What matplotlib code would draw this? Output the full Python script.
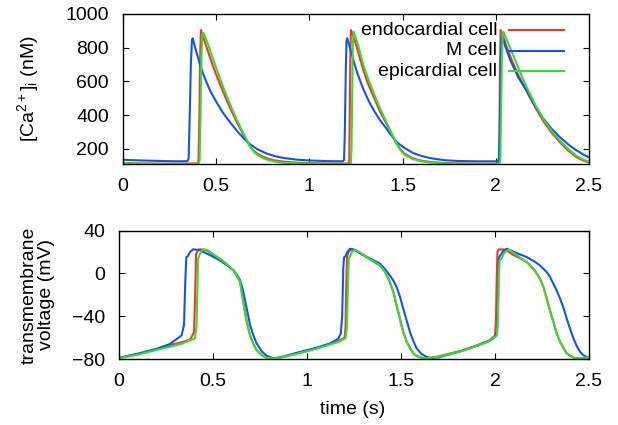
import matplotlib
matplotlib.use("Agg")
import matplotlib.pyplot as plt
from matplotlib.lines import Line2D

# ---- calcium transients [Ca2+]i (nM) ----
ca_t_endo = [0, 0.1, 0.2, 0.3, 0.4, 0.405, 0.41, 0.414, 0.418, 0.425, 0.44, 0.46, 0.48, 0.5,
             0.52, 0.55, 0.58, 0.61, 0.64, 0.66, 0.681, 0.7, 0.72, 0.75, 0.78, 0.81, 0.86,
             0.93, 1.0, 1.1, 1.21,
             1.214, 1.217, 1.22, 1.223, 1.23, 1.25, 1.27, 1.289, 1.31, 1.33, 1.36, 1.379,
             1.41, 1.44, 1.468, 1.49, 1.51, 1.557, 1.6, 1.647, 1.72, 1.79, 1.9, 2.0, 2.016,
             2.019, 2.022, 2.026, 2.035, 2.06, 2.09, 2.12, 2.166, 2.21, 2.255, 2.3, 2.345,
             2.39, 2.434, 2.47, 2.5]
ca_endo = [116, 113, 112, 112, 113, 130, 400, 750, 905, 880, 830, 765, 700, 640,
           585, 505, 430, 360, 295, 255, 215, 190, 172, 153, 141, 132, 124,
           118, 115, 113, 112,
           130, 450, 780, 905, 885, 820, 740, 670, 600, 545, 470, 420,
           355, 290, 230, 195, 172, 143, 130, 122, 116, 113, 112, 112, 115,
           200, 650, 905, 880, 800, 715, 640, 540, 450, 365, 295, 238,
           188, 150, 130, 120]

ca_t_m = [0, 0.1, 0.2, 0.3, 0.345, 0.352, 0.358, 0.364, 0.37, 0.374, 0.38, 0.39, 0.4, 0.413,
          0.43, 0.45, 0.47, 0.5, 0.53, 0.56, 0.592, 0.62, 0.65, 0.681, 0.72, 0.771, 0.81,
          0.86, 0.93, 1.0, 1.1, 1.18,
          1.186, 1.19, 1.195, 1.199, 1.203, 1.21, 1.225, 1.24, 1.26, 1.289, 1.32, 1.35,
          1.379, 1.41, 1.44, 1.468, 1.51, 1.557, 1.6, 1.647, 1.72, 1.79, 1.9, 2.0, 2.016,
          2.021, 2.026, 2.03, 2.035, 2.05, 2.08, 2.12, 2.166, 2.21, 2.255, 2.3, 2.345,
          2.39, 2.434, 2.47, 2.5]
ca_m = [135, 131, 128, 126, 127, 140, 400, 700, 845, 856, 830, 790, 750, 700,
        645, 590, 540, 480, 425, 378, 333, 295, 260, 228, 198, 172, 158,
        146, 136, 131, 127, 126,
        135, 300, 650, 840, 856, 830, 770, 710, 640, 555, 480, 420,
        370, 325, 280, 240, 205, 175, 158, 145, 133, 128, 126, 126, 128,
        300, 650, 840, 870, 810, 720, 625, 545, 455, 380, 318, 268,
        225, 190, 166, 150]

ca_t_epi = [0, 0.1, 0.2, 0.3, 0.405, 0.411, 0.416, 0.421, 0.426, 0.431, 0.45, 0.47, 0.5,
            0.52, 0.55, 0.58, 0.61, 0.64, 0.66, 0.681, 0.7, 0.72, 0.75, 0.78, 0.81, 0.86,
            0.93, 1.0, 1.1, 1.215,
            1.222, 1.226, 1.23, 1.233, 1.237, 1.245, 1.26, 1.289, 1.31, 1.33, 1.36, 1.379,
            1.41, 1.44, 1.468, 1.49, 1.51, 1.557, 1.6, 1.647, 1.72, 1.79, 1.9, 2.0, 2.018,
            2.024, 2.028, 2.033, 2.037, 2.041, 2.05, 2.08, 2.11, 2.14, 2.166, 2.21, 2.255,
            2.3, 2.345, 2.39, 2.434, 2.47, 2.5]
ca_epi = [115, 112, 111, 111, 112, 130, 400, 750, 880, 889, 840, 775, 680,
          620, 530, 450, 375, 305, 262, 215, 185, 165, 145, 133, 125, 118,
          114, 113, 112, 111,
          112, 200, 550, 820, 895, 870, 820, 700, 630, 575, 490, 440,
          365, 295, 230, 190, 165, 138, 126, 119, 114, 112, 111, 111, 112,
          130, 400, 750, 880, 895, 870, 790, 710, 630, 565, 465, 378,
          305, 248, 198, 158, 136, 124]

# ---- transmembrane voltage (mV) ----
v_t_endo = [0, 0.1, 0.2, 0.271, 0.33, 0.378, 0.399, 0.405, 0.41, 0.422, 0.449, 0.47, 0.5,
            0.537, 0.57, 0.608, 0.626, 0.644, 0.661, 0.679, 0.697, 0.715, 0.732, 0.76,
            0.786, 0.82, 0.86, 0.95, 1.05,
            1.122, 1.17, 1.2, 1.205, 1.209, 1.213, 1.22, 1.238, 1.26, 1.3, 1.34, 1.388,
            1.415, 1.441, 1.46, 1.477, 1.495, 1.512, 1.53, 1.548, 1.565, 1.583, 1.61, 1.637,
            1.7, 1.814, 1.9, 1.973, 2.0, 2.005, 2.009, 2.013, 2.02, 2.045, 2.06, 2.1, 2.14,
            2.169, 2.21, 2.239, 2.258, 2.275, 2.293, 2.31, 2.328, 2.346, 2.381, 2.417,
            2.452, 2.5]
v_endo = [-79, -75.5, -71, -67, -64.5, -62, -55, -20, 18, 22.3, 22.3, 21, 17.5,
          13.6, 9, 3, -2, -8, -26.7, -45, -57.7, -66, -71.6, -76.5,
          -78.8, -79.4, -78.5, -74.5, -70,
          -66, -63, -60, -50, -10, 15, 20, 22.5, 21.5, 17, 12.5, 7.4,
          1.5, -8, -18, -30, -43, -55, -63.5, -70, -74.5, -77.2, -78.8, -79.4,
          -77.5, -72.6, -67.5, -62.3, -58, -45, -5, 20, 22.3, 22.3, 21.5, 17, 13.5,
          10.5, 3, -4.9, -13, -23.5, -35, -45, -56, -63.9, -74.7, -78.8,
          -79.4, -78.5]

v_t_m = [0, 0.1, 0.2, 0.271, 0.333, 0.346, 0.352, 0.358, 0.366, 0.378, 0.395, 0.431, 0.449,
         0.49, 0.537, 0.575, 0.608, 0.628, 0.644, 0.661, 0.679, 0.697, 0.715, 0.732, 0.76,
         0.786, 0.82, 0.86, 0.95, 1.05,
         1.122, 1.167, 1.18, 1.187, 1.193, 1.197, 1.205, 1.215, 1.229, 1.25,
         1.3, 1.35, 1.388, 1.415, 1.441, 1.46, 1.477, 1.495, 1.512, 1.53, 1.548, 1.565,
         1.583, 1.61, 1.637, 1.66, 1.7, 1.814, 1.9, 1.973, 1.995, 2.01, 2.015, 2.018,
         2.022, 2.03, 2.045, 2.062, 2.1, 2.169, 2.21, 2.239, 2.275, 2.293, 2.31, 2.328,
         2.346, 2.364, 2.381, 2.4, 2.417, 2.435, 2.452, 2.47, 2.488, 2.5]
v_m = [-79, -75, -70.5, -66, -58, -48, -10, 15, 16, 20, 22.5, 21.5, 20,
       16.5, 12, 7.5, 3, -1.5, -6.5, -17, -32.5, -48, -58, -65.5, -73,
       -77, -79.3, -78.5, -74, -69.5,
       -65.5, -61, -56, -40, 5, 15, 16, 20, 23, 22,
       17, 12.5, 9, 4, -2, -7, -13, -22, -33, -44, -55, -63,
       -70, -75.5, -78, -79.3, -78.5, -73, -68, -63, -60, -56, -40, -5,
       15, 17, 21, 23, 20, 15.2, 11, 7.4, 1.2, -3.5, -9.6, -16,
       -23.5, -32, -42, -52, -60.7, -68, -73.2, -76.5, -78, -78.5]

v_t_epi = [0, 0.1, 0.2, 0.271, 0.33, 0.404, 0.412, 0.417, 0.42, 0.424, 0.431, 0.44, 0.457,
           0.47, 0.5, 0.537, 0.57, 0.608, 0.626, 0.644, 0.661, 0.679, 0.697, 0.715, 0.732,
           0.76, 0.786, 0.82, 0.86, 0.95, 1.05,
           1.122, 1.17, 1.205, 1.212, 1.218, 1.222, 1.228, 1.24, 1.255, 1.3, 1.34,
           1.388, 1.415, 1.441, 1.46, 1.477, 1.495, 1.512, 1.53, 1.548, 1.565, 1.583, 1.61,
           1.637, 1.7, 1.814, 1.9, 1.973, 2.01, 2.015, 2.02, 2.024, 2.035, 2.05, 2.071,
           2.1, 2.14, 2.169, 2.21, 2.239, 2.258, 2.275, 2.293, 2.31, 2.328, 2.346, 2.381,
           2.417, 2.452, 2.5]
v_epi = [-79.3, -76, -71.5, -68.6, -66, -60.7, -50, -17, 13.6, 15, 18.3, 21.4, 22.3,
         21.8, 18, 13.6, 9, 3, -2, -8, -26.7, -45, -57.7, -66, -71.6,
         -76.5, -78.8, -79.4, -78.8, -75, -70.5,
         -66.5, -64, -60.5, -50, -10, 14, 15.5, 20, 22.3, 17.5, 12.5,
         7.4, 1.5, -8, -18, -30, -43, -55, -63.5, -70, -74.5, -77.2, -78.8,
         -79.4, -77.8, -73, -68, -62.8, -58, -45, -5, 12, 14, 19, 22.3,
         19, 14, 10.5, 3, -4.9, -13, -23.5, -35, -45, -56, -63.9, -74.7,
         -78.8, -79.4, -78.2]

labels = ["endocardial cell", "M cell", "epicardial cell"]
colors = ["#ff3322", "#1155ee", "#33dd33"]
xticks = [0, 0.5, 1, 1.5, 2, 2.5]
xticklabels = ["0", "0.5", "1", "1.5", "2", "2.5"]

plt.rcParams["font.family"] = "Liberation Sans"
plt.rcParams["font.size"] = 14
plt.rcParams["mathtext.fontset"] = "custom"
plt.rcParams["mathtext.rm"] = "Liberation Sans"
plt.rcParams["mathtext.it"] = "Liberation Sans:italic"

W, H = 618, 425
fig = plt.figure(figsize=(W / 100, H / 100), dpi=100)
ax1 = fig.add_axes([123 / W, 1 - 164 / H, 466 / W, 150 / H])
ax2 = fig.add_axes([119 / W, 1 - 359 / H, 470 / W, 128.5 / H])

for t, y, c in zip([ca_t_endo, ca_t_m, ca_t_epi], [ca_endo, ca_m, ca_epi], colors):
    ax1.plot(t, y, color=c, lw=1.5)
for t, y, c in zip([v_t_endo, v_t_m, v_t_epi], [v_endo, v_m, v_epi], colors):
    ax2.plot(t, y, color=c, lw=1.5)

ax1.set_ylim(110, 1000)
ax1.set_yticks([200, 400, 600, 800, 1000])
ax2.set_ylim(-80, 40)
ax2.set_yticks([-80, -40, 0, 40])

for ax in (ax1, ax2):
    ax.set_xlim(0, 2.5)
    ax.set_xticks(xticks)
    ax.set_xticklabels(xticklabels)
    ax.tick_params(direction="in", length=4.5, width=0.8, top=True, right=True, pad=10)
    for s in ax.spines.values():
        s.set_linewidth(1.0)

# key, right-justified text like gnuplot
rows = [0.893, 0.755, 0.62]
for lab, c, yy in zip(labels, colors, rows):
    ax1.text(0.8026, yy, lab, transform=ax1.transAxes, ha="right", va="center")
    ax1.add_line(Line2D([0.828, 0.946], [yy, yy], transform=ax1.transAxes, color=c, lw=1.5))

fig.text(28 / W, 1 - 89 / H, r"[Ca$^{2+}$]$_{\mathrm{i}}$ (nM)", rotation=90,
         ha="center", va="center")
fig.text(38 / W, 1 - 295 / H, "transmembrane\nvoltage (mV)", rotation=90,
         ha="center", va="center", multialignment="center", linespacing=1.0)
fig.text(353 / W, 1 - 410 / H, "time (s)", ha="center", va="center")

fig.savefig("out.png", dpi=100)
